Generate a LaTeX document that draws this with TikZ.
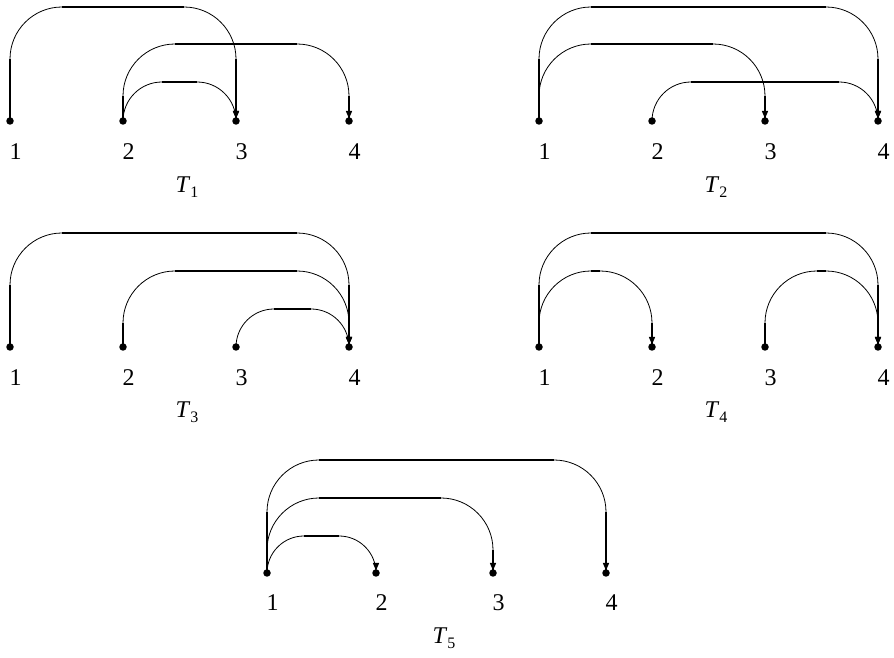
\documentclass[tikz,border=0pt]{standalone}
\usepackage{fontspec}
\setmainfont{Liberation Serif}
\usetikzlibrary{calc}
\tikzset{
  dot/.style={circle,fill=black,inner sep=0pt,minimum size=7.5pt},
  num/.style={font=\fontsize{24}{28}\selectfont,inner sep=0pt},
  tlab/.style={font=\fontsize{24}{28}\selectfont,inner sep=0pt},
  arcl/.style={line width=0.8pt},
  strl/.style={line width=1.6pt},
}
\newcommand\conn[3]{%
  \pgfmathsetmacro\rr{min(52,#3)}%
  \pgfmathsetmacro\vv{#3-\rr}%
  \draw[arcl] ($(#1.center)+(0,\vv)$) arc[start angle=180,end angle=90,radius=\rr]
     ($(#2.center)+(-\rr,#3)$) arc[start angle=90,end angle=0,radius=\rr];
  \draw[strl] (#1.center) -- ($(#1.center)+(0,\vv)$)
     ($(#1.center)+(\rr,#3)$) -- ($(#2.center)+(-\rr,#3)$)
     ($(#2.center)+(0,\vv)$) -- (#2.center);
  \fill ($(#2.center)+(0,2.5)$) -- ++(-3.2,7.5) -- ++(6.4,0) -- cycle;
}
\newcommand\tl[1]{\textit{T}\raisebox{-0.22em}{\fontsize{16}{16}\selectfont #1}}
\begin{document}
\begin{tikzpicture}[x=1pt,y=1pt]
\useasboundingbox (0,0) rectangle (894,658);
% row positions
\def\ya{537}\def\yb{311}\def\yc{85}
% T1
\foreach \i/\x in {1/10,2/123,3/236,4/349}{
  \node[dot] (a\i) at (\x,\ya) {};
  \node[num] (la\i) at (\x+5.5,506) {\i};
}
\conn{a1}{a3}{114}
\conn{a2}{a4}{77}
\conn{a2}{a3}{39}
\node[tlab] (ta) at (187,471) {\tl{1}};
% T2
\foreach \i/\x in {1/539,2/652,3/765,4/878}{
  \node[dot] (b\i) at (\x,\ya) {};
  \node[num] (lb\i) at (\x+5.5,506) {\i};
}
\conn{b1}{b4}{114}
\conn{b1}{b3}{77}
\conn{b2}{b4}{39}
\node[tlab] (tb) at (716,471) {\tl{2}};
% T3
\foreach \i/\x in {1/10,2/123,3/236,4/349}{
  \node[dot] (c\i) at (\x,\yb) {};
  \node[num] (lc\i) at (\x+5.5,280) {\i};
}
\conn{c1}{c4}{114}
\conn{c2}{c4}{76}
\conn{c3}{c4}{38}
\node[tlab] (tc) at (187,246) {\tl{3}};
% T4
\foreach \i/\x in {1/539,2/652,3/765,4/878}{
  \node[dot] (d\i) at (\x,\yb) {};
  \node[num] (ld\i) at (\x+5.5,280) {\i};
}
\conn{d1}{d4}{114}
\conn{d1}{d2}{76}
\conn{d3}{d4}{76}
\node[tlab] (td) at (716,246) {\tl{4}};
% T5
\foreach \i/\x in {1/267,2/376,3/493,4/606}{
  \node[dot] (e\i) at (\x,\yc) {};
  \node[num] (le\i) at (\x+5.5,55) {\i};
}
\conn{e1}{e4}{113}
\conn{e1}{e3}{75}
\conn{e1}{e2}{37}
\node[tlab] (te) at (444,20) {\tl{5}};
\end{tikzpicture}
\end{document}
